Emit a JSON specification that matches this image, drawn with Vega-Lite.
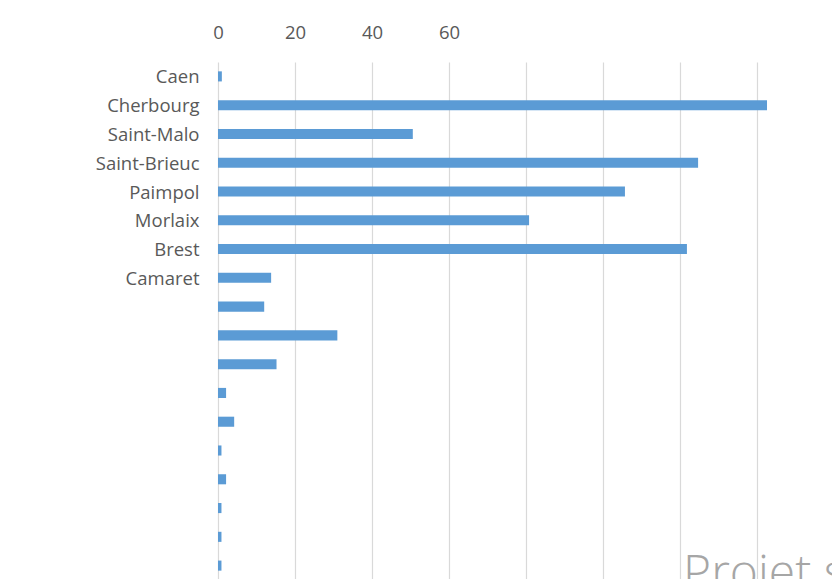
{
  "$schema": "https://vega.github.io/schema/vega-lite/v6.json",
  "autosize": "none",
  "width": 616,
  "height": 518,
  "padding": {"left": 218, "top": 62, "right": 0, "bottom": 0},
  "background": "white",
  "config": {"view": {"stroke": null}},
  "datasets": {
    "bars": [
      {"port": "Caen", "value": 1.0},
      {"port": "Cherbourg", "value": 142.6},
      {"port": "Saint-Malo", "value": 50.6},
      {"port": "Saint-Brieuc", "value": 124.7},
      {"port": "Paimpol", "value": 105.7},
      {"port": "Morlaix", "value": 80.8},
      {"port": "Brest", "value": 121.8},
      {"port": "Camaret", "value": 13.8},
      {"port": "#9", "value": 12.0},
      {"port": "#10", "value": 31.0},
      {"port": "#11", "value": 15.2},
      {"port": "#12", "value": 2.1},
      {"port": "#13", "value": 4.2},
      {"port": "#14", "value": 0.9},
      {"port": "#15", "value": 2.1},
      {"port": "#16", "value": 0.9},
      {"port": "#17", "value": 0.9},
      {"port": "#18", "value": 0.9}
    ],
    "watermark": [{"text": "Projet s", "x": 120.8, "port": "#18"}]
  },
  "layer": [
    {
      "data": {"name": "bars"},
      "mark": {"type": "bar", "color": "#5b9bd5"},
      "encoding": {
        "y": {
          "field": "port", "type": "nominal", "sort": null,
          "scale": {"paddingInner": 0.65, "paddingOuter": 0.325},
          "axis": {
            "title": null, "domain": false, "ticks": false, "grid": false,
            "labelExpr": "indexof(datum.value,'#')==0 ? '' : datum.value",
            "labelFont": "Open Sans", "labelFontSize": 18.5, "labelColor": "#595959",
            "labelPadding": 19, "labelOffset": 1
          }
        },
        "x": {
          "field": "value", "type": "quantitative",
          "scale": {"domain": [0, 160], "nice": false},
          "axis": {
            "orient": "top", "title": null, "domain": false, "ticks": false,
            "values": [0, 20, 40, 60, 80, 100, 120, 140, 160],
            "labelExpr": "datum.value <= 60 ? datum.label : ''",
            "labelFlush": false,
            "labelFont": "Open Sans", "labelFontSize": 18.5, "labelColor": "#595959",
            "labelPadding": 20,
            "gridColor": "#d9d9d9", "gridWidth": 1.2
          }
        }
      }
    },
    {
      "data": {"name": "watermark"},
      "mark": {"type": "text", "align": "left", "baseline": "alphabetic", "dy": 23, "font": "Open Sans", "fontWeight": 300, "fontSize": 48, "color": "#a6a6a6"},
      "encoding": {
        "x": {"field": "x", "type": "quantitative"},
        "y": {"field": "port", "type": "nominal", "sort": null},
        "text": {"field": "text"}
      }
    }
  ]
}
